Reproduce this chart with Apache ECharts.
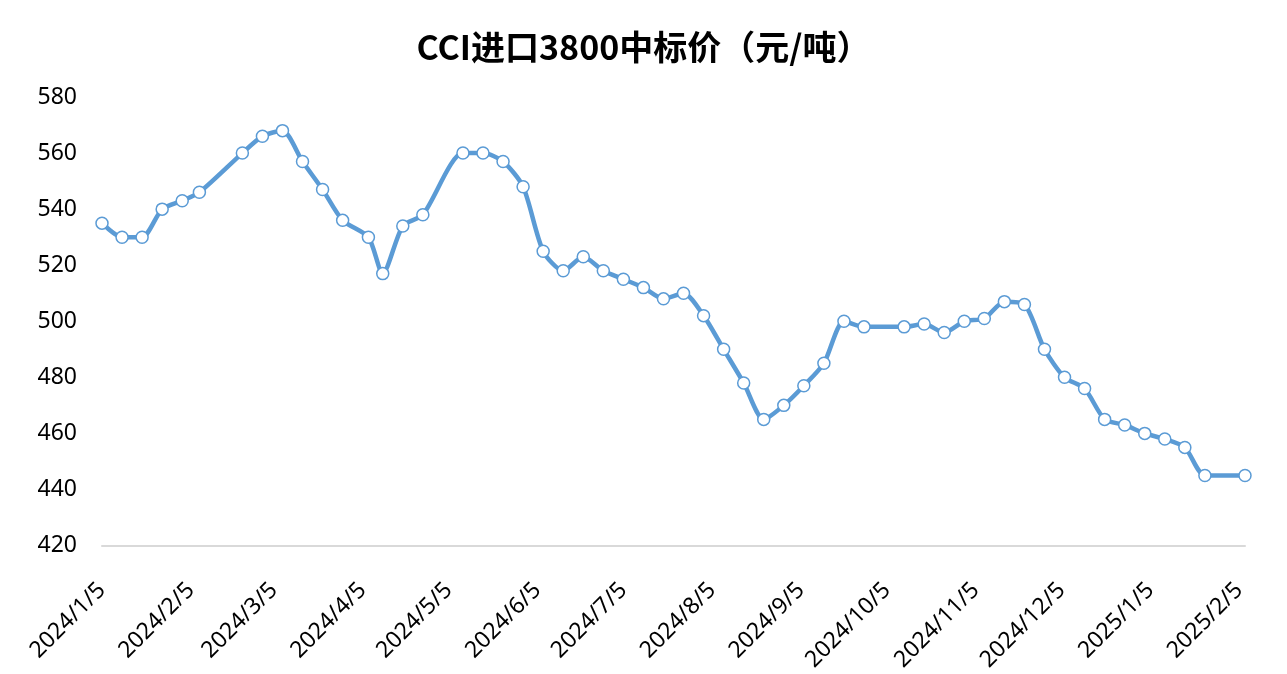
<!DOCTYPE html>
<html>
<head>
<meta charset="utf-8">
<title>CCI进口3800中标价</title>
<script src="https://cdn.jsdelivr.net/npm/echarts@6/dist/echarts.min.js"></script>
<style>
    html, body { margin: 0; padding: 0; background: #fff; }
    #chart { width: 1287px; height: 674px; }
</style>
</head>
<body>
<div id="chart"></div>
<script>
// 周度日期（节假日周缺失）
const dates = [
    '2024/1/5', '2024/1/12', '2024/1/19', '2024/1/26', '2024/2/2', '2024/2/8',
    '2024/2/23', '2024/3/1', '2024/3/8', '2024/3/15', '2024/3/22', '2024/3/29',
    '2024/4/7', '2024/4/12', '2024/4/19', '2024/4/26', '2024/5/10', '2024/5/17',
    '2024/5/24', '2024/5/31', '2024/6/7', '2024/6/14', '2024/6/21', '2024/6/28',
    '2024/7/5', '2024/7/12', '2024/7/19', '2024/7/26', '2024/8/2', '2024/8/9',
    '2024/8/16', '2024/8/23', '2024/8/30', '2024/9/6', '2024/9/13', '2024/9/20',
    '2024/9/27', '2024/10/11', '2024/10/18', '2024/10/25', '2024/11/1', '2024/11/8',
    '2024/11/15', '2024/11/22', '2024/11/29', '2024/12/6', '2024/12/13', '2024/12/20',
    '2024/12/27', '2025/1/3', '2025/1/10', '2025/1/17', '2025/1/24', '2025/2/7'
]
// 中标价 元/吨
const prices = [
    535, 530, 530, 540, 543, 546,
    560, 566, 568, 557, 547, 536,
    530, 517, 534, 538, 560, 560,
    557, 548, 525, 518, 523, 518,
    515, 512, 508, 510, 502, 490,
    478, 465, 470, 477, 485, 500,
    498, 498, 499, 496, 500, 501,
    507, 506, 490, 480, 476, 465,
    463, 460, 458, 455, 445, 445
]
// 横轴刻度标签
const tickLabels = [
    '2024/1/5', '2024/2/5', '2024/3/5', '2024/4/5', '2024/5/5', '2024/6/5', '2024/7/5',
    '2024/8/5', '2024/9/5', '2024/10/5', '2024/11/5', '2024/12/5', '2025/1/5', '2025/2/5'
]

function toTime (s) {
    const [y, m, d] = s.split('/').map(Number)
    return new Date(y, m - 1, d).getTime()
}

const times = dates.map(toTime)
const chart = echarts.init(document.getElementById('chart'))
const option = {
    backgroundColor: '#fff',
    animation: false,
    title: {
        text: 'CCI进口3800中标价（元/吨）',
        left: 'center',
        top: 25,
        textStyle: {
            fontFamily: 'Noto Sans CJK SC',
            fontWeight: 'bold',
            fontSize: 34,
            color: '#000'
        }
    },
    grid: {
        left: 102,
        right: 42,
        top: 97,
        bottom: 127
    },
    // 用时间戳作数值轴，刻度取每月5日
    xAxis: {
        type: 'value',
        min: times[0],
        max: times[times.length - 1],
        axisLine: { lineStyle: { color: '#d9d9d9', width: 2 } },
        axisTick: { show: false },
        splitLine: { show: false },
        axisLabel: {
            customValues: tickLabels.map(toTime),
            rotate: 45,
            margin: 41,
            fontFamily: 'Noto Sans',
            fontSize: 23,
            color: '#000',
            formatter: (value) => {
                const d = new Date(value)
                return d.getFullYear() + '/' + (d.getMonth() + 1) + '/' + d.getDate()
            }
        }
    },
    yAxis: {
        type: 'value',
        min: 420,
        max: 580,
        interval: 20,
        axisLine: { show: false },
        axisTick: { show: false },
        splitLine: { show: false },
        axisLabel: {
            margin: 25,
            fontFamily: 'Noto Sans',
            fontSize: 23,
            color: '#000'
        }
    },
    series: [
        {
            type: 'line',
            data: times.map((t, i) => [t, prices[i]]),
            smooth: 0.25,
            symbol: 'circle',
            symbolSize: 12,
            lineStyle: { color: '#5b9bd5', width: 4.5 },
            itemStyle: { color: '#fff', borderColor: '#5b9bd5', borderWidth: 1.5 },
            z: 3
        }
    ]
}
chart.setOption(option)
</script>
</body>
</html>
